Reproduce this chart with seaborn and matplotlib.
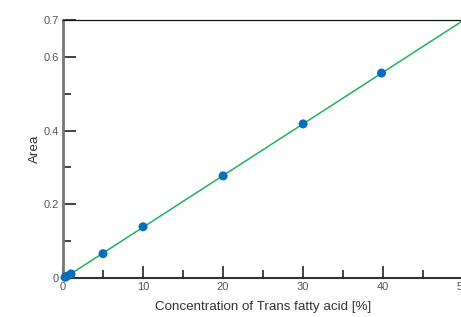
import numpy as np
import pandas as pd
import matplotlib
matplotlib.use("Agg")
import matplotlib.pyplot as plt
import seaborn as sns

# Calibration data
concentration = [0.25, 0.5, 1.0, 5.0, 10.0, 20.0, 30.0, 39.8]
area = [0.002, 0.005, 0.011, 0.066, 0.139, 0.277, 0.418, 0.556]

x_ticks = [0, 10, 20, 30, 40, 50]
y_ticks = [0, 0.2, 0.4, 0.6, 0.7]
y_tick_labels = ["0", "0.2", "0.4", "0.6", "0.7"]

df = pd.DataFrame({"conc": concentration, "area": area})

sns.set_style("white")
plt.rcParams["font.family"] = ["Liberation Sans", "DejaVu Sans"]

fig = plt.figure(figsize=(4.61, 3.17), dpi=100)
ax = fig.add_axes([0.1367, 0.123, 0.868, 0.814])

# linear fit through the data, drawn across the full x range
slope, intercept = np.polyfit(df["conc"], df["area"], 1)
fit = pd.DataFrame({"conc": [0, 50]})
fit["area"] = intercept + slope * fit["conc"]
sns.lineplot(data=fit, x="conc", y="area", color="#1fb35c", lw=1.1, ax=ax, zorder=2)
sns.scatterplot(data=df, x="conc", y="area", color="#0a6dbb", s=42, edgecolor="none", ax=ax, zorder=3, clip_on=False)

ax.set_xlim(0, 50)
ax.set_ylim(0, 0.7)
ax.set_xticks(x_ticks)
ax.set_xticks([5, 15, 25, 35, 45], minor=True)
ax.set_yticks(y_ticks)
ax.set_yticklabels(y_tick_labels)
ax.set_yticks([0.1, 0.3, 0.5], minor=True)
ax.yaxis.get_major_ticks()[-1].tick1line.set_visible(False)

ax.tick_params(which="major", direction="in", length=9, width=1.2, color="#222222",
               labelsize=8, labelcolor="#555555", pad=3)
ax.tick_params(which="minor", direction="in", length=6, width=1.2, color="#222222")
ax.tick_params(axis="x", which="both", bottom=True)
ax.tick_params(axis="y", which="both", left=True)

for side in ["left", "bottom", "top", "right"]:
    ax.spines[side].set_visible(True)
ax.spines["left"].set_color("#777777")
ax.spines["left"].set_linewidth(2)
ax.spines["bottom"].set_color("#333333")
ax.spines["bottom"].set_linewidth(1.5)
ax.spines["top"].set_color("#111111")
ax.spines["top"].set_linewidth(0.9)
ax.spines["right"].set_visible(False)

ax.set_xlabel("Concentration of Trans fatty acid [%]", fontsize=9.6, color="#333333", labelpad=6)
ax.set_ylabel("Area", fontsize=9.6, color="#333333", labelpad=2)

fig.savefig("out.png", dpi=100)
